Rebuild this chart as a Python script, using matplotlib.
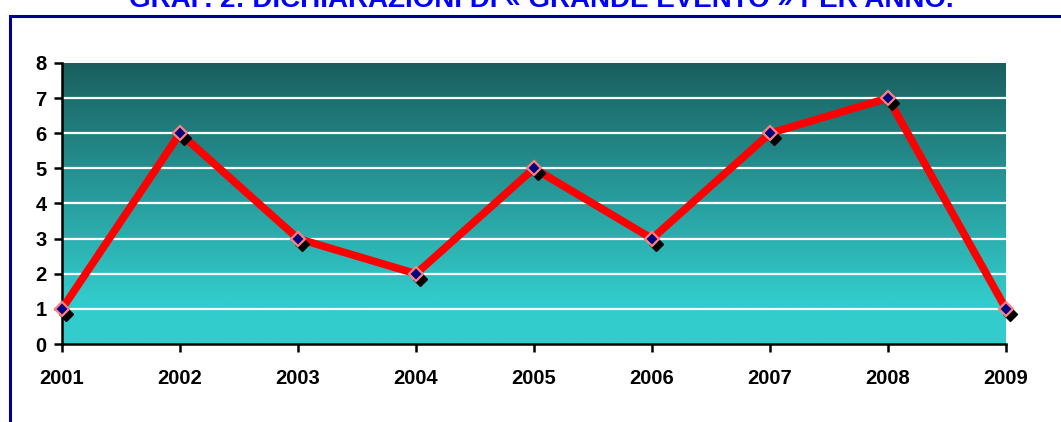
import matplotlib
matplotlib.use('Agg')
import matplotlib.pyplot as plt
import matplotlib.transforms as mtransforms
from matplotlib.patches import Rectangle
import numpy as np

plt.rcParams['font.family'] = ['Liberation Sans', 'DejaVu Sans']

years = ['2001', '2002', '2003', '2004', '2005', '2006', '2007', '2008', '2009']
counts = [1, 6, 3, 2, 5, 3, 6, 7, 1]
y_ticks = [0, 1, 2, 3, 4, 5, 6, 7, 8]
title = 'GRAF. 2: DICHIARAZIONI DI « GRANDE EVENTO » PER ANNO.'

fig = plt.figure(figsize=(10.61, 4.22), dpi=100)
W, H = 1061, 422

# blue frame, cut off on the right and bottom
fig.patches.append(Rectangle((9.5 / W, -0.1), 1.2, 1 - 16 / H + 0.1,
                             transform=fig.transFigure, fill=False,
                             edgecolor='#000090', linewidth=2.2))
# title is cut by the top edge in the original, too
fig.text(541 / W, 1 - 7 / H, title, ha='center', va='baseline',
         color='#0000ff', fontsize=20, fontweight='bold')

ax = fig.add_axes([62 / W, 1 - 344 / H, (1006 - 62) / W, (344 - 63) / H])
x = np.arange(len(years))

# vertical gradient background
top = np.array([26, 94, 94]) / 255
bot = np.array([51, 204, 204]) / 255
t = np.clip(np.linspace(0, 1, 256) / 0.85, 0, 1)[:, None]
grad = top + (bot - top) * t
ax.imshow(grad[:, None, :], extent=[0, len(years) - 1, 0, 8],
          aspect='auto', origin='upper', zorder=0, interpolation='bilinear')

for v in y_ticks[1:-1]:
    ax.axhline(v, color='white', linewidth=1.6, zorder=1)

shadow = mtransforms.offset_copy(ax.transData, fig, x=4, y=-5, units='dots')
ax.plot(x, counts, color='red', linewidth=5.5, zorder=3, clip_on=False,
        solid_capstyle='butt')
ax.plot(x, counts, linestyle='none', marker='D', markersize=7.5,
        color='black', transform=shadow, zorder=4, clip_on=False)
ax.plot(x, counts, linestyle='none', marker='D', markersize=7.5,
        markerfacecolor='#000080', markeredgecolor='#ff8080',
        markeredgewidth=1.6, zorder=5, clip_on=False)

ax.set_xlim(0, len(years) - 1)
ax.set_ylim(0, 8)
ax.set_xticks(x)
ax.set_xticklabels(years)
ax.set_yticks(y_ticks)
for s in ['top', 'right']:
    ax.spines[s].set_visible(False)
for s in ['left', 'bottom']:
    ax.spines[s].set_linewidth(1.8)
    ax.spines[s].set_zorder(2)
ax.tick_params(axis='both', length=6, width=1.8, labelsize=14.5)
ax.tick_params(axis='x', pad=12)
ax.tick_params(axis='y', pad=5)
for lbl in ax.get_xticklabels() + ax.get_yticklabels():
    lbl.set_fontweight('bold')

fig.savefig('out.png', dpi=100)
